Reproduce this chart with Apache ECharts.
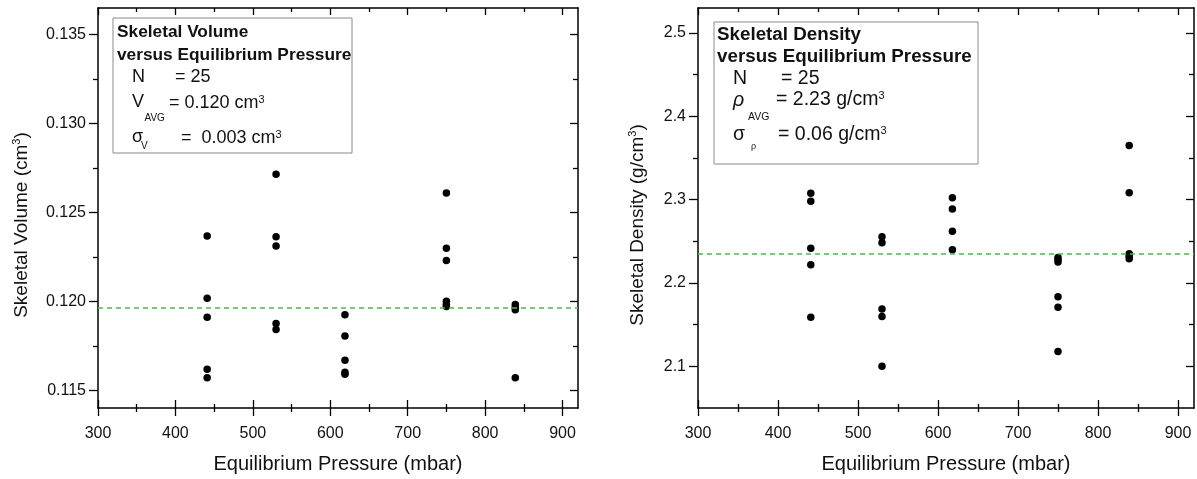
<!DOCTYPE html>
<html><head><meta charset="utf-8">
<script src="https://cdn.jsdelivr.net/npm/echarts@6/dist/echarts.min.js"></script>
<style>html,body{margin:0;padding:0;background:#fff}#c{width:1197px;height:479px}</style>
</head><body><div id="c"></div>
<script>
// ---- data ----
const pressureV = [441,441,441,441,441, 530,530,530,530,530, 619,619,619,619,619, 750,750,750,750,750,750, 839,839,839,839];
const volume    = [0.12368,0.12017,0.11910,0.11618,0.11570, 0.12715,0.12363,0.12311,0.11875,0.11842, 0.11925,0.11805,0.11668,0.11601,0.11590, 0.12610,0.12298,0.12230,0.12000,0.11982,0.11971, 0.11982,0.11967,0.11953,0.11570];
const pressureD = [441,441,441,441,441, 530,530,530,530,530, 618,618,618,618, 750,750,750,750,750,750, 839,839,839,839,839];
const density   = [2.3077,2.2982,2.2416,2.2220,2.1590, 2.2554,2.2483,2.1689,2.1598,2.1000, 2.3024,2.2889,2.2622,2.2398, 2.2307,2.2280,2.2252,2.1834,2.1708,2.1177, 2.3649,2.3083,2.2351,2.2322,2.2292];
const avgVolume = 0.11964;
const avgDensity = 2.2346;
const xMajorTicks = [300,400,500,600,700,800,900];
const xMinorTicks = [350,450,550,650,750,850];
const vMajorTicks = [0.115,0.120,0.125,0.130,0.135];
const vMinorTicks = [0.1175,0.1225,0.1275,0.1325];
const dMajorTicks = [2.1,2.2,2.3,2.4,2.5];
const dMinorTicks = [2.15,2.25,2.35,2.45];
const xTitle = 'Equilibrium Pressure (mbar)';
const vTitle = 'Skeletal Volume (cm{sup|3})';
const dTitle = 'Skeletal Density (g/cm{sup|3})';

const FONT = '"Liberation Sans", Arial, Helvetica, sans-serif';
const BLK = '#000';
const TXT = '#111';
const tickLine = {color: BLK, width: 1.3};
const frameLine = {color: BLK, width: 1.5};

function xAxes(g, xmin, xmax) {
  const base = {type:'value', gridIndex:g, min:xmin, max:xmax, splitLine:{show:false},
    axisLine:{show:false, onZero:false}, axisLabel:{show:false}, axisTick:{show:false}};
  return [
    Object.assign({}, base, {position:'bottom',
      axisLine:{show:true, onZero:false, lineStyle:frameLine},
      axisTick:{show:true, customValues:xMajorTicks, length:8, lineStyle:tickLine},
      axisLabel:{show:true, customValues:xMajorTicks, fontSize:16, color:TXT, fontFamily:FONT, margin:18},
      name:xTitle, nameLocation:'middle', nameGap:46,
      nameTextStyle:{fontSize:20, color:TXT, fontFamily:FONT}}),
    Object.assign({}, base, {position:'bottom', axisTick:{show:true, inside:true, customValues:xMajorTicks, length:8, lineStyle:tickLine}}),
    Object.assign({}, base, {position:'bottom', axisTick:{show:true, customValues:xMinorTicks, length:4, lineStyle:tickLine}}),
    Object.assign({}, base, {position:'bottom', axisTick:{show:true, inside:true, customValues:xMinorTicks, length:4, lineStyle:tickLine}}),
    Object.assign({}, base, {position:'top', axisLine:{show:true, onZero:false, lineStyle:frameLine},
      axisTick:{show:true, inside:true, customValues:xMajorTicks, length:7, lineStyle:tickLine}}),
    Object.assign({}, base, {position:'top', axisTick:{show:true, inside:true, customValues:xMinorTicks, length:4, lineStyle:tickLine}})
  ];
}
function yAxes(g, ymin, ymax, major, minor, digits, title, gap) {
  const base = {type:'value', gridIndex:g, min:ymin, max:ymax, splitLine:{show:false},
    axisLine:{show:false, onZero:false}, axisLabel:{show:false}, axisTick:{show:false}};
  return [
    Object.assign({}, base, {position:'left',
      axisLine:{show:true, onZero:false, lineStyle:frameLine},
      axisTick:{show:true, customValues:major, length:9, lineStyle:tickLine},
      axisLabel:{show:true, customValues:major, fontSize:16, color:TXT, fontFamily:FONT, margin:12,
        formatter: v => Number(v).toFixed(digits)},
      name:title, nameLocation:'middle', nameGap:gap,
      nameTextStyle:{fontSize:19, color:TXT, fontFamily:FONT, lineHeight:22, padding:[0,34,0,0],
        rich:{sup:{fontSize:11, fontFamily:FONT, color:TXT, verticalAlign:'top', lineHeight:11}}}}),
    Object.assign({}, base, {position:'left', axisTick:{show:true, customValues:minor, length:5, lineStyle:tickLine}}),
    Object.assign({}, base, {position:'right', axisLine:{show:true, onZero:false, lineStyle:frameLine},
      axisTick:{show:true, inside:true, customValues:major, length:8, lineStyle:tickLine}}),
    Object.assign({}, base, {position:'right', axisTick:{show:true, inside:true, customValues:minor, length:5, lineStyle:tickLine}})
  ];
}

function txt(x, y, text, size, extra) {
  return {type:'text', x:x, y:y, z:20, style:Object.assign({text:text, fill:TXT, fontSize:size,
    fontFamily:FONT, align:'left', verticalAlign:'middle',
    rich:{sup:{fontSize:11, fontFamily:FONT, fill:TXT, verticalAlign:'top', lineHeight:11}}}, extra||{})};
}

const avgLine = v => ({silent:true, symbol:'none', precision:6, label:{show:false},
  lineStyle:{color:'#4cb84c', type:[5,4], width:1.5}, data:[{yAxis:v}]});

const option = {
  backgroundColor:'#fff',
  animation:false,
  grid:[
    {left:98, top:8, width:480, height:410},
    {left:698, top:8, width:496, height:410}
  ],
  xAxis: xAxes(0, 300, 920).concat(xAxes(1, 300, 920)),
  yAxis: yAxes(0, 0.114, 0.1365, vMajorTicks, vMinorTicks, 3, vTitle, 65)
    .concat(yAxes(1, 2.05, 2.53, dMajorTicks, dMinorTicks, 1, dTitle, 49)),
  series:[
    {type:'scatter', xAxisIndex:0, yAxisIndex:0, symbolSize:7.5, itemStyle:{color:BLK, opacity:1},
      data: pressureV.map((p,i)=>[p, volume[i]]), markLine: avgLine(avgVolume)},
    {type:'scatter', xAxisIndex:6, yAxisIndex:4, symbolSize:7.5, itemStyle:{color:BLK, opacity:1},
      data: pressureD.map((p,i)=>[p, density[i]]), markLine: avgLine(avgDensity)}
  ],
  graphic:[
    {type:'rect', z:19, shape:{x:113, y:18, width:239, height:135}, style:{fill:'#fff', stroke:'#8a8a8a', lineWidth:1}},
    txt(117, 32.5, 'Skeletal Volume', 17.3, {fontWeight:'bold'}),
    txt(117, 55.5, 'versus Equilibrium Pressure', 17.3, {fontWeight:'bold'}),
    txt(132, 77.5, 'N', 18),
    txt(175, 77.5, '= 25', 18),
    txt(132, 102.5, 'V', 18),
    txt(144.5, 118.5, 'AVG', 10),
    txt(169, 103, '= 0.120 cm{sup|3}', 18),
    txt(132, 137.5, 'σ', 18),
    txt(141, 146.5, 'V', 10),
    txt(181, 138, '=  0.003 cm{sup|3}', 18),

    {type:'rect', z:19, shape:{x:714, y:22, width:264, height:142}, style:{fill:'#fff', stroke:'#8a8a8a', lineWidth:1}},
    txt(717, 34.5, 'Skeletal Density', 18.8, {fontWeight:'bold'}),
    txt(717, 57, 'versus Equilibrium Pressure', 18.8, {fontWeight:'bold'}),
    txt(733, 79, 'N', 19.5),
    txt(781, 79, '= 25', 19.5),
    txt(733, 101, 'ρ', 19.5, {fontStyle:'italic'}),
    txt(748, 117.5, 'AVG', 10.5),
    txt(776, 100, '= 2.23 g/cm{sup|3}', 19.5),
    txt(733, 134.5, 'σ', 19.5),
    txt(751, 147, 'ρ', 9),
    txt(778, 135, '= 0.06 g/cm{sup|3}', 19.5)
  ]
};
const chart = echarts.init(document.getElementById('c'), null, {renderer:'canvas'});
chart.setOption(option);
</script></body></html>
